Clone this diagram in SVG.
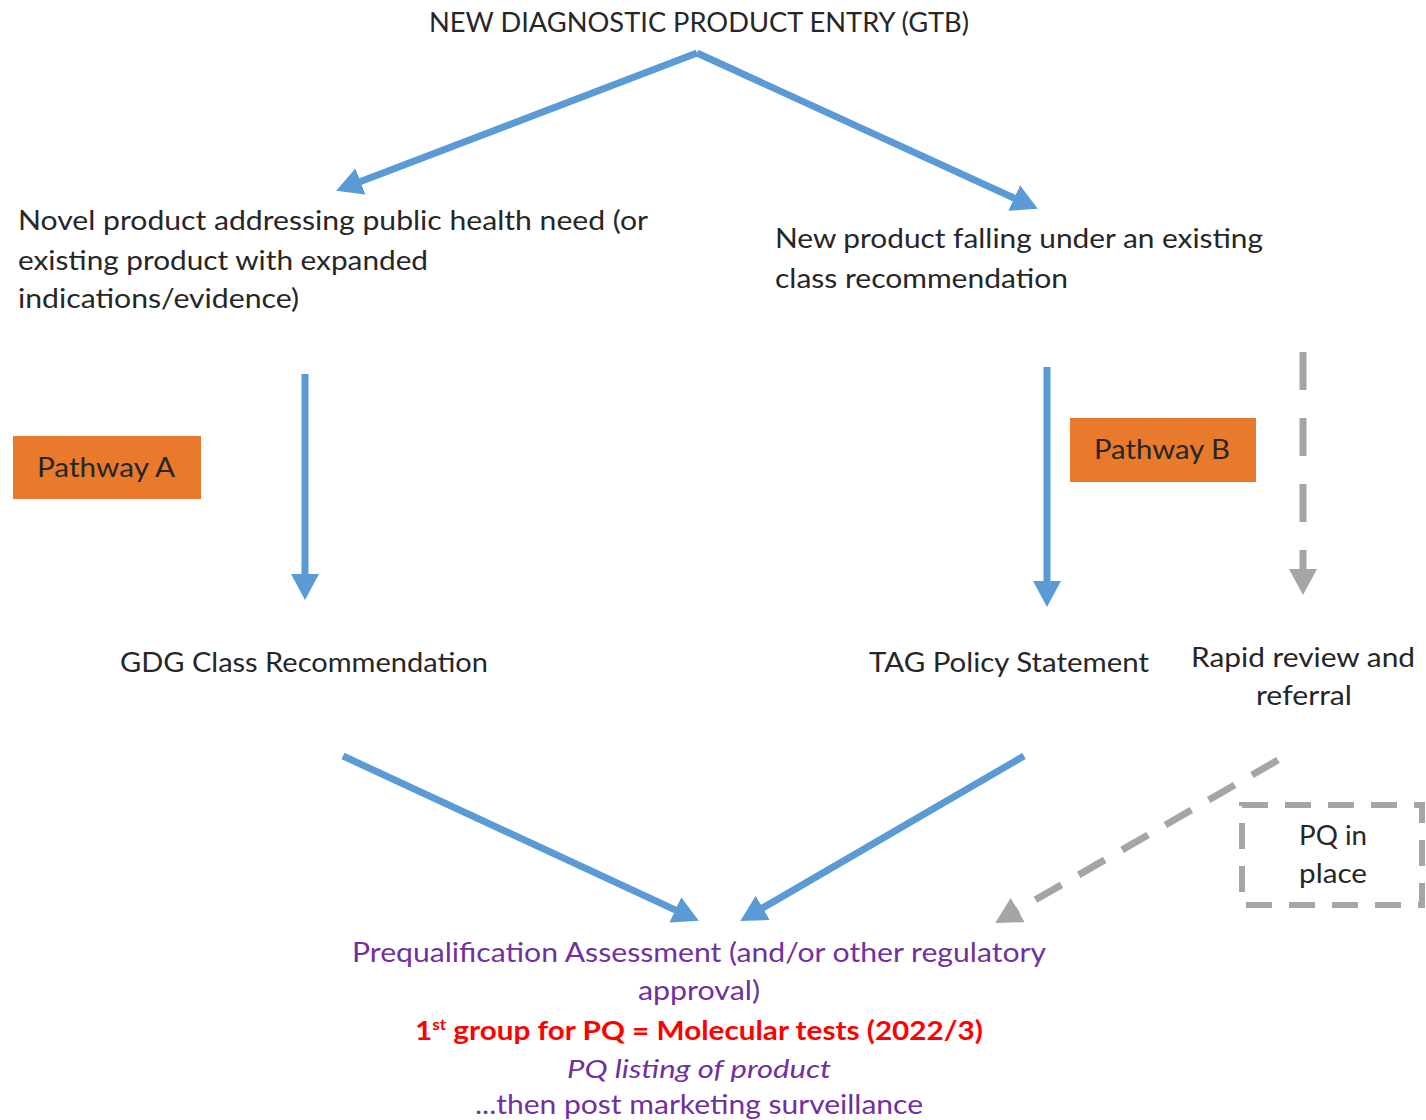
<svg xmlns="http://www.w3.org/2000/svg" width="1426" height="1120" viewBox="0 0 1426 1120">
<style>
text{font-family:Lato,"Open Sans","Liberation Sans",sans-serif;font-size:26px;fill:#262626}
.c{text-anchor:middle}
.pu{fill:#7030A0}
.rd{fill:#FF0000;font-weight:bold}
.it{font-style:italic}
.blue{stroke:#5B9BD5;stroke-width:7;fill:none}
.gray{stroke:#A5A5A5;stroke-width:7;fill:none}
.box{fill:#E97A2B}
</style>
<defs>
<marker id="ab" markerUnits="userSpaceOnUse" markerWidth="26" markerHeight="28" refX="4" refY="14" orient="auto"><path d="M0,0 L26,14 L0,28 Z" fill="#5B9BD5"/></marker>
<marker id="ag" markerUnits="userSpaceOnUse" markerWidth="26" markerHeight="28" refX="4" refY="14" orient="auto"><path d="M0,0 L26,14 L0,28 Z" fill="#A5A5A5"/></marker>
</defs>
<rect width="1426" height="1120" fill="#ffffff"/>
<g id="connectors">
<line class="blue" x1="697" y1="53" x2="356.7" y2="182.9" marker-end="url(#ab)"/>
<line class="blue" x1="697" y1="53" x2="1017.8" y2="199.7" marker-end="url(#ab)"/>
<line class="blue" x1="305" y1="374" x2="305" y2="578" marker-end="url(#ab)"/>
<line class="blue" x1="1047" y1="367" x2="1047" y2="585" marker-end="url(#ab)"/>
<line class="gray" x1="1303" y1="352" x2="1303" y2="573" stroke-dasharray="38,28" marker-end="url(#ag)"/>
<line class="blue" x1="343" y1="756" x2="678.9" y2="911.6" marker-end="url(#ab)"/>
<line class="blue" x1="1024" y1="756" x2="759.3" y2="909.9" marker-end="url(#ab)"/>
<line class="gray" x1="1278" y1="760" x2="1014.3" y2="912" stroke-dasharray="30,20" marker-end="url(#ag)"/>
</g>
<g id="entry"><text x="699" y="32" class="c" textLength="540" lengthAdjust="spacingAndGlyphs">NEW DIAGNOSTIC PRODUCT ENTRY (GTB)</text></g>
<g id="novel">
<text x="18" y="230" textLength="630" lengthAdjust="spacingAndGlyphs">Novel product addressing public health need (or</text>
<text x="18" y="270" textLength="410" lengthAdjust="spacingAndGlyphs">existing product with expanded</text>
<text x="18" y="308" textLength="281" lengthAdjust="spacingAndGlyphs">indications/evidence)</text>
</g>
<g id="newproduct">
<text x="775" y="248" textLength="488" lengthAdjust="spacingAndGlyphs">New product falling under an existing</text>
<text x="775" y="288" textLength="293" lengthAdjust="spacingAndGlyphs">class recommendation</text>
</g>
<g id="pathwayA"><rect class="box" x="13" y="436" width="188" height="63"/><text x="106" y="477" class="c" textLength="138" lengthAdjust="spacingAndGlyphs">Pathway A</text></g>
<g id="pathwayB"><rect class="box" x="1070" y="418" width="186" height="64"/><text x="1162" y="459" class="c" textLength="136" lengthAdjust="spacingAndGlyphs">Pathway B</text></g>
<g id="gdg"><text x="304" y="672" class="c" textLength="368" lengthAdjust="spacingAndGlyphs">GDG Class Recommendation</text></g>
<g id="tag"><text x="1009" y="672" class="c" textLength="280" lengthAdjust="spacingAndGlyphs">TAG Policy Statement</text></g>
<g id="rapid">
<text x="1303" y="667" class="c" textLength="224" lengthAdjust="spacingAndGlyphs">Rapid review and</text>
<text x="1304" y="705" class="c" textLength="96" lengthAdjust="spacingAndGlyphs">referral</text>
</g>
<g id="pqinplace">
<rect x="1242" y="805" width="180" height="100" fill="none" stroke="#A5A5A5" stroke-width="6" stroke-dasharray="26,17"/>
<text x="1333" y="845" class="c" textLength="68" lengthAdjust="spacingAndGlyphs">PQ in</text>
<text x="1333" y="883" class="c" textLength="68" lengthAdjust="spacingAndGlyphs">place</text>
</g>
<g id="prequal">
<text x="699" y="962" class="c pu" textLength="694" lengthAdjust="spacingAndGlyphs">Prequalification Assessment (and/or other regulatory</text>
<text x="699" y="1000" class="c pu" textLength="122" lengthAdjust="spacingAndGlyphs">approval)</text>
<text x="415" y="1040" class="rd" textLength="568" lengthAdjust="spacingAndGlyphs">1<tspan font-size="15" dy="-10">st</tspan><tspan dy="10"> group for PQ = Molecular tests (2022/3)</tspan></text>
<text x="699" y="1078" class="c pu it" textLength="264" lengthAdjust="spacingAndGlyphs">PQ listing of product</text>
<text x="699" y="1114" class="c pu" textLength="448" lengthAdjust="spacingAndGlyphs">...then post marketing surveillance</text>
</g>
</svg>
